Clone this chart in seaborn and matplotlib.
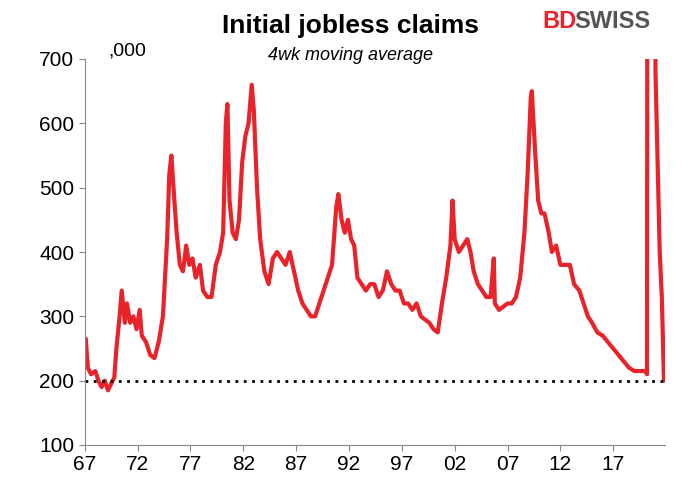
import matplotlib
matplotlib.use("Agg")
import matplotlib.pyplot as plt
import seaborn as sns
import pandas as pd

years = [1967.0,1967.1,1967.3,1967.6,1968.0,1968.3,1968.6,1968.9,1969.2,1969.5,1969.8,1970.0,1970.3,1970.5,1970.8,1971.0,1971.3,1971.6,1971.9,1972.2,1972.4,1972.8,1973.2,1973.6,1974.0,1974.4,1974.8,1975.0,1975.2,1975.4,1975.7,1976.0,1976.3,1976.6,1976.9,1977.2,1977.5,1977.9,1978.2,1978.6,1979.0,1979.4,1979.8,1980.1,1980.35,1980.5,1980.7,1981.0,1981.3,1981.6,1981.9,1982.2,1982.5,1982.8,1983.0,1983.3,1983.6,1984.0,1984.4,1984.8,1985.2,1985.6,1986.0,1986.4,1986.8,1987.2,1987.6,1988.0,1988.4,1988.8,1989.2,1989.6,1990.0,1990.4,1990.8,1991.0,1991.3,1991.6,1991.9,1992.2,1992.5,1992.8,1993.2,1993.6,1994.0,1994.4,1994.8,1995.2,1995.6,1996.0,1996.4,1996.8,1997.2,1997.6,1998.0,1998.4,1998.8,1999.2,1999.6,2000.0,2000.4,2000.8,2001.2,2001.6,2001.8,2002.0,2002.4,2002.8,2003.2,2003.5,2003.8,2004.2,2004.6,2005.0,2005.4,2005.7,2005.8,2006.2,2006.6,2007.0,2007.4,2007.8,2008.2,2008.6,2008.9,2009.2,2009.3,2009.6,2009.9,2010.2,2010.5,2010.9,2011.2,2011.6,2012.0,2012.4,2012.9,2013.3,2013.8,2014.2,2014.6,2015.0,2015.5,2016.0,2016.5,2017.0,2017.5,2018.0,2018.5,2019.0,2019.5,2020.0,2020.2,2020.25,2020.9,2021.0,2021.4,2021.6,2021.8]
claims = [240,265,220,210,215,200,190,200,185,195,205,250,300,340,290,320,290,300,280,310,270,260,240,235,260,300,420,520,550,500,430,380,370,410,380,390,360,380,340,330,330,380,400,430,600,630,480,430,420,450,540,580,600,660,620,500,420,370,350,390,400,390,380,400,370,340,320,310,300,300,320,340,360,380,470,490,450,430,450,420,410,360,350,340,350,350,330,340,370,350,340,340,320,320,310,320,300,295,290,280,275,320,360,410,480,420,400,410,420,400,370,350,340,330,330,390,320,310,315,320,320,330,360,430,520,640,650,560,480,460,460,430,400,410,380,380,380,350,340,320,300,290,275,270,260,250,240,230,220,215,215,215,210,1500,1500,680,400,330,200]
xticks = [1967,1972,1977,1982,1987,1992,1997,2002,2007,2012,2017]
xlabels = ["67","72","77","82","87","92","97","02","07","12","17"]

df = pd.DataFrame({"year": years, "claims": claims})
sns.set_style("white")
plt.rcParams['font.family'] = ['Liberation Sans', 'DejaVu Sans']
plt.rcParams['text.color'] = 'black'
fig = plt.figure(figsize=(7,5), dpi=100)
ax = fig.add_axes([0.121, 0.11, 0.829, 0.772])
sns.lineplot(data=df, x="year", y="claims", color="#e8232a", linewidth=3, ax=ax)
ax.axhline(200, color="black", linestyle=(0,(1,2)), linewidth=2)
ax.set_xlim(1967, 2021.9)
ax.set_ylim(100, 700)
ax.set_yticks(range(100, 701, 100))
ax.set_xticks(xticks)
ax.set_xticklabels(xlabels)
ax.tick_params(labelsize=15, length=4, direction="out", bottom=True, left=True, colors="black")
ax.tick_params(color="#888888")
ax.set_xlabel(""); ax.set_ylabel("")
for s in ["top", "right"]:
    ax.spines[s].set_visible(False)
for s in ["left", "bottom"]:
    ax.spines[s].set_color("#888888")
fig.text(0.5, 0.935, "Initial jobless claims", ha="center", fontsize=19, fontweight="bold")
fig.text(0.5, 0.88, "4wk moving average", ha="center", fontsize=13, style="italic")
fig.text(0.155, 0.89, ",000", fontsize=14)
fig.text(0.775, 0.945, "BD", fontsize=17, fontweight="bold", color="#e8232a")
fig.text(0.82, 0.945, "SWISS", fontsize=17, fontweight="bold", color="#555555")
fig.savefig("out.png")
